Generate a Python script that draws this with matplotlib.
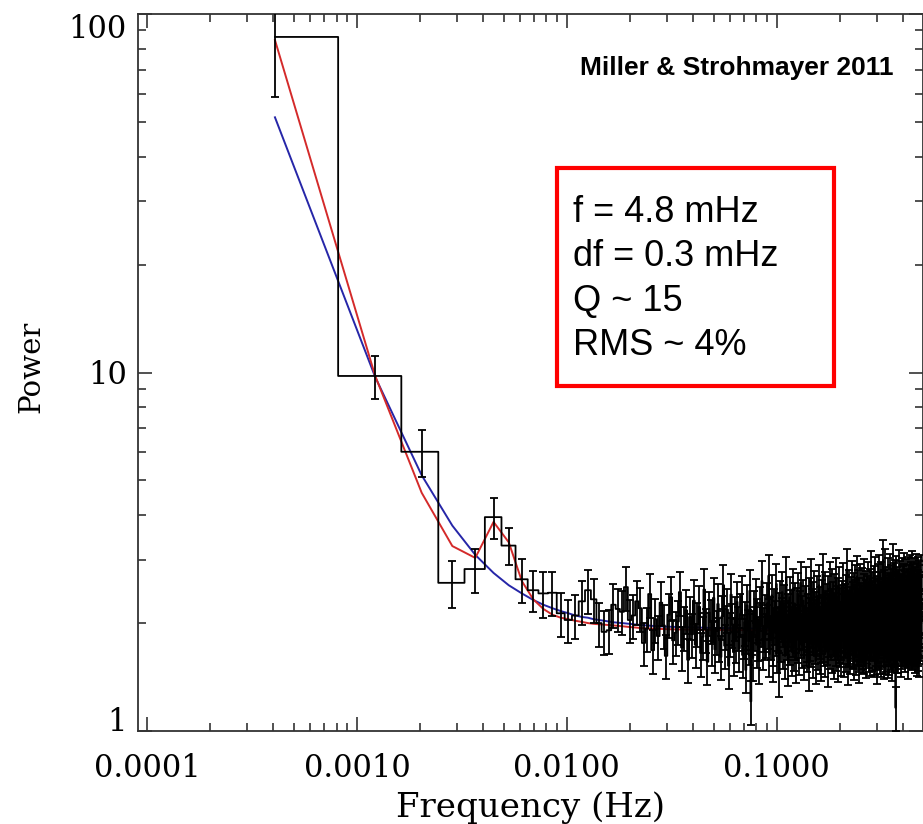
#!/usr/bin/env python3
import numpy as np
import matplotlib

matplotlib.use("Agg")
import matplotlib.pyplot as plt
from matplotlib.patches import Rectangle
from matplotlib.ticker import FixedLocator, FixedFormatter, LogLocator, NullFormatter

# averaged power spectrum: bin n sits at (2n - 1) * half_bin Hz
half_bin = 4.07e-4

power = [
    86.3, 9.78, 6.01, 2.59, 2.83, 3.95, 3.29, 2.65, 2.47, 2.42, 2.43,
    2.13, 2.04, 2.10, 2.30, 2.47, 2.33, 2.00, 1.89, 1.91, 2.25, 2.19, 2.15, 2.52, 2.04, 2.10, 2.30, 2.20, 1.76, 1.93, 2.41,
    1.68, 2.05, 1.84, 2.28, 1.97, 1.62, 2.11, 2.36, 1.79, 1.88, 2.02, 2.44, 1.71, 1.95, 2.17, 1.58, 2.08, 1.86, 2.31, 1.74,
    1.99, 2.22, 1.65, 1.83, 2.48, 1.92, 1.56, 2.14, 2.03, 1.77, 2.35, 1.69, 1.90, 2.26, 1.81, 1.61, 2.09, 2.55, 1.73, 1.96,
    2.18, 1.52, 1.87, 2.40, 1.98, 1.66, 2.07, 1.80, 2.29, 1.94, 1.70, 2.12, 2.38, 1.63, 1.85, 2.01, 1.48, 2.24, 1.91, 1.78,
    2.46, 1.21, 1.89, 1.60, 2.16, 1.95, 2.33, 1.74, 2.05, 1.82, 1.57, 2.21, 1.99, 2.62, 1.72, 1.93, 1.83, 2.10, 1.86, 2.27,
    1.97, 2.71, 1.64, 2.08, 1.84, 2.39, 1.76, 1.59, 2.19, 2.02, 1.88, 2.57, 1.69, 1.94, 2.13, 1.45, 2.30, 1.81, 2.06, 2.44,
    1.73, 1.99, 2.24, 1.62, 1.90, 2.68, 1.83, 2.11, 1.55, 2.00, 2.36, 1.78, 1.95, 2.17, 1.66, 2.49, 1.87, 1.71, 2.27, 1.84,
    1.92, 1.58, 2.20, 2.42, 1.80, 1.97, 1.67, 2.15, 2.59, 1.86, 1.74, 2.09, 1.96, 2.31, 1.61, 1.89, 2.23, 1.77, 2.52, 1.81,
    1.70, 2.12, 1.93, 1.50, 2.35, 2.06, 1.82, 2.64, 1.75, 1.98, 2.18, 1.63, 2.28, 1.90, 2.45, 1.79, 2.03, 1.57, 2.14, 1.88,
    2.38, 1.72, 2.07, 1.95, 2.55, 1.68, 1.85, 2.21, 1.80, 1.60, 2.32, 1.91, 2.74, 1.81, 2.10, 1.76, 1.99, 2.43, 1.65, 2.16,
    1.94, 2.26, 1.78, 2.05, 1.54, 2.37, 1.87, 2.11, 2.60, 1.73, 1.97, 2.19, 1.83, 2.48, 1.69, 2.02, 2.29, 1.90, 1.62, 2.13,
    2.40, 1.84, 2.08, 1.76, 2.67, 1.71, 2.23, 1.88, 2.01, 1.59, 2.34, 1.95, 1.80, 2.51, 1.93, 1.75, 2.20, 1.84, 1.66, 2.24,
    1.98, 2.30, 1.79, 2.12, 2.58, 1.86, 1.64, 2.25, 1.87, 1.92, 2.39, 1.70, 2.16, 2.82, 1.89, 2.03, 1.56, 2.13, 1.75, 2.10,
    2.47, 1.77, 2.21, 1.79, 1.68, 2.36, 2.05, 1.85, 2.62, 1.91, 1.94, 1.73, 2.28, 2.00, 1.61, 2.42, 1.74, 2.18, 1.82, 2.54,
    1.89, 1.87, 2.31, 1.67, 2.24, 2.70, 1.76, 1.78, 2.13, 2.46, 1.70, 2.06, 1.58, 2.35, 2.01, 1.84, 2.57, 1.77, 1.99, 1.72,
    2.27, 2.03, 1.81, 2.50, 1.73, 2.15, 1.69, 2.40, 1.88, 1.68, 2.65, 1.76, 2.22, 1.98, 2.32, 1.63, 2.11, 2.45, 1.86, 1.84,
    1.79, 2.37, 1.92, 1.95, 2.60, 1.74, 2.26, 2.02, 1.70, 2.49, 1.66, 2.17, 2.34, 1.85, 1.87, 2.78, 1.93, 1.71, 2.29, 1.94,
    1.99, 2.43, 1.82, 2.20, 1.85, 1.64, 2.53, 1.97, 2.30, 1.67, 2.10, 2.68, 1.77, 2.01, 2.24, 1.72, 1.57, 2.38, 1.96, 1.89,
    2.56, 1.75, 2.13, 1.80, 2.33, 1.86, 2.71, 1.73, 2.22, 1.98, 2.44, 1.68, 1.89, 2.28, 1.91, 2.59, 1.64, 2.18, 2.00, 1.75,
    2.35, 1.91, 1.94, 3.00, 1.81, 2.25, 2.04, 1.62, 2.47, 1.76, 2.15, 2.83, 1.68, 2.07, 1.70, 2.39, 2.00, 1.86, 2.52, 1.81,
    1.78, 2.30, 1.93, 1.93, 2.66, 1.63, 2.19, 2.42, 1.67, 2.08, 2.35, 1.77, 2.74, 1.76, 2.23, 1.83, 1.89, 2.55, 1.92, 1.72,
    2.27, 1.86, 2.48, 1.85, 2.17, 1.60, 2.40, 2.00, 2.91, 1.70, 2.24, 1.75, 2.58, 2.10, 1.74, 2.33, 1.85, 1.88, 2.63, 1.79,
    2.21, 1.16, 2.44, 1.92, 1.95, 2.70, 1.69, 2.29, 2.02, 1.77, 2.51, 1.89, 1.69, 2.37, 1.98, 2.08, 2.80, 1.84, 2.16, 1.84,
    1.90, 2.46, 2.02, 1.77, 2.34, 2.61, 1.86, 2.20, 1.65, 2.41, 1.97, 2.30, 1.76, 2.67, 2.01, 1.96, 1.73, 2.53, 2.05, 1.84,
    2.38, 1.89, 1.82, 2.57, 2.14, 1.88, 2.76, 1.78, 2.28, 1.93, 1.70, 2.45, 2.09, 1.83, 2.64, 1.80, 2.32, 1.90, 1.97, 2.49,
    2.00, 1.75, 2.36, 2.12, 1.81, 2.69, 1.95, 1.74, 2.43, 2.07, 1.62, 2.31, 1.98, 2.55, 1.79, 2.14, 2.72, 1.89, 2.03, 1.78,
    2.29, 1.84, 2.11, 2.60, 1.76, 2.40, 1.92, 2.09, 1.72, 2.48, 1.97, 2.33, 1.85, 2.78, 2.05, 1.73, 2.37, 1.94, 2.56, 1.81,
    2.13, 2.45, 1.78, 2.02, 2.66, 1.87, 2.30, 1.69, 2.52, 1.99, 2.10, 1.75, 2.41, 1.91, 2.73, 1.83, 2.07, 2.35, 1.66, 2.16,
    1.96, 2.58, 1.80, 2.22, 2.04, 1.71, 2.47, 1.90, 2.69, 2.08, 1.77, 2.39, 2.00, 1.88, 2.62, 2.15, 1.64, 2.43, 1.95, 2.18,
    1.86, 2.54, 2.03, 1.79, 2.36, 1.98, 2.71, 1.82, 2.11,
]

# fractional 1-sigma errors: first bins read one by one, the rest share one size
rel_err_low = [0.32, 0.14, 0.15, 0.15, 0.14, 0.13, 0.12, 0.14, 0.13, 0.145, 0.14]
rel_err_rest = 0.14

# model curves, read at these bin numbers
model_bins = list(range(1, 41)) + [60, 100, 600]
model_red = [
    84.6, 9.8, 4.62, 3.28, 3.04, 3.83, 3.36, 2.62, 2.33, 2.19,
    2.11, 2.07, 2.05, 2.03, 2.015, 2.0, 1.99, 1.985, 1.98, 1.975,
    1.97, 1.965, 1.96, 1.955, 1.95, 1.946, 1.942, 1.938, 1.935, 1.932,
    1.93, 1.929, 1.928, 1.927, 1.926, 1.925, 1.924, 1.923, 1.922, 1.921,
    1.915, 1.91, 1.905,
]
model_blue = [
    51.5, 9.73, 5.17, 3.74, 3.10, 2.76, 2.55, 2.42, 2.32, 2.25,
    2.20, 2.16, 2.13, 2.10, 2.08, 2.07, 2.05, 2.04, 2.03, 2.02,
    2.01, 2.005, 2.0, 1.995, 1.99, 1.985, 1.98, 1.977, 1.973, 1.97,
    1.967, 1.964, 1.962, 1.96, 1.958, 1.956, 1.955, 1.954, 1.953, 1.952,
    1.939, 1.931, 1.926,
]

xticks = [1e-4, 1e-3, 1e-2, 1e-1]
xtick_labels = ["0.0001", "0.0010", "0.0100", "0.1000"]
yticks = [1, 10, 100]
ytick_labels = ["1", "10", "100"]

box_lines = ["f = 4.8 mHz", "df = 0.3 mHz", "Q ~ 15", "RMS ~ 4%"]
credit = "Miller & Strohmayer 2011"

plt.rcParams["font.family"] = "DejaVu Serif"

W, H = 923, 824
fig = plt.figure(figsize=(W / 100, H / 100), dpi=100)
ax = fig.add_axes([138 / W, 1 - 731 / H, (922.5 - 138) / W, (731 - 14) / H])

n = np.arange(1, len(power) + 1)
freq = (2 * n - 1) * half_bin
power = np.array(power)
rel = np.full(len(power), rel_err_rest)
rel[: len(rel_err_low)] = rel_err_low
err = power * rel

mf = (2 * np.array(model_bins) - 1) * half_bin
ax.plot(mf, model_blue, color="#2626a8", lw=1.4, zorder=2)
ax.plot(mf, model_red, color="#d42a2a", lw=1.4, zorder=2)

ax.step(freq, power, where="mid", color="black", lw=1.3, zorder=3)
ax.errorbar(freq, power, yerr=err, fmt="none", ecolor="black", elinewidth=1.3,
            capsize=2.6, capthick=1.3, zorder=3)

ax.set_xscale("log")
ax.set_yscale("log")
ax.set_xlim(9.06e-5, 0.495)
ax.set_ylim(1, 100)

ax.xaxis.set_major_locator(FixedLocator(xticks))
ax.xaxis.set_major_formatter(FixedFormatter(xtick_labels))
ax.xaxis.set_minor_locator(LogLocator(base=10, subs=np.arange(2, 10)))
ax.xaxis.set_minor_formatter(NullFormatter())
ax.yaxis.set_major_locator(FixedLocator(yticks))
ax.yaxis.set_major_formatter(FixedFormatter(ytick_labels))
ax.yaxis.set_minor_locator(LogLocator(base=10, subs=np.arange(2, 10)))
ax.yaxis.set_minor_formatter(NullFormatter())

ax.tick_params(which="both", direction="in", top=True, right=True,
               width=1.2, color="#333333", labelsize=22)
ax.tick_params(which="major", length=10)
ax.tick_params(which="minor", length=5.5)
ax.tick_params(axis="x", pad=16)
ax.tick_params(axis="y", pad=8)
for s in ax.spines.values():
    s.set_linewidth(1.3)
    s.set_color("#333333")

# the outer y labels sit inside the axis range, as in the original
ytick_objs = ax.yaxis.get_major_ticks()
ytick_objs[0].label1.set_va("baseline")
ytick_objs[2].label1.set_va("top")

ax.set_xlabel("Frequency (Hz)", fontsize=24.5)
ax.xaxis.label.set_va("baseline")
ax.xaxis.set_label_coords(0.5, -(817 - 731) / 717)
ax.set_ylabel("Power", fontsize=21)
ax.yaxis.label.set_va("center")
ax.yaxis.set_label_coords(-0.136, (731 - 367) / 717)

fig.patches.append(Rectangle((557 / W, 1 - 386 / H), (834 - 557) / W, (386 - 168) / H,
                             transform=fig.transFigure, fill=False,
                             edgecolor="#ff0000", lw=3))
for i, line in enumerate(box_lines):
    fig.text(573 / W, 1 - (222 + i * 44.4) / H, line, fontsize=26,
             family="Liberation Sans", va="baseline", ha="left")

fig.text(893 / W, 1 - 75 / H, credit, fontsize=19, fontweight="bold",
         family="Liberation Sans", va="baseline", ha="right")

fig.savefig("out.png", dpi=100)
